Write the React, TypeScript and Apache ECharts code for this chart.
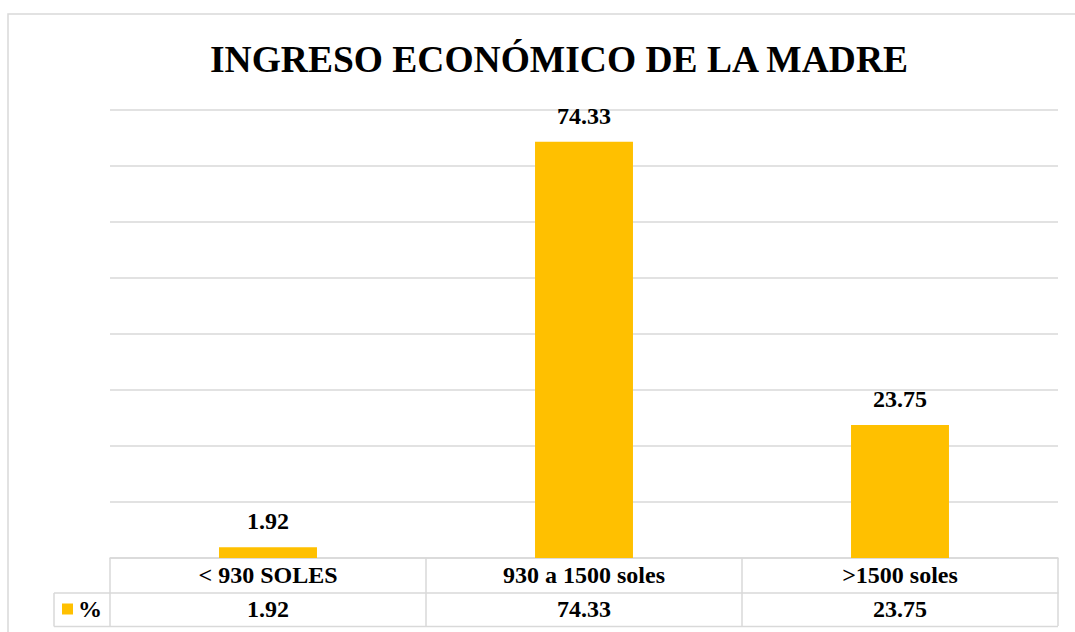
import React, { useEffect, useRef } from "react";
import * as echarts from "echarts";

const TITLE = "INGRESO ECONÓMICO DE LA MADRE";
const categories = ["< 930 SOLES", "930 a 1500 soles", ">1500 soles"];
const seriesName = "%";
const values = [1.92, 74.33, 23.75];

const FONT = "'Liberation Serif', 'Times New Roman', serif";
const GRID_C = "#d9d9d9";
const BAR_C = "#FFC000";

export default function App() {
  const ref = useRef<HTMLDivElement>(null);
  useEffect(() => {
    if (!ref.current) return;
    const chart = echarts.init(ref.current, null, { renderer: "svg" });
    chart.setOption({
      animation: false,
      backgroundColor: "#ffffff",
      title: {
        text: TITLE,
        left: 554,
        textAlign: "center",
        top: 35,
        textStyle: { fontFamily: FONT, fontWeight: "bold", fontSize: 37.5, color: "#000" },
      },
      legend: {
        data: [seriesName],
        left: 57,
        top: 592,
        icon: "rect",
        itemWidth: 11,
        itemHeight: 11,
        itemGap: 4,
        textStyle: { fontFamily: FONT, fontWeight: "bold", fontSize: 24, color: "#000" },
      },
      grid: { left: 110, right: 17, top: 110, bottom: 74, containLabel: false },
      xAxis: [
        {
          type: "category",
          data: categories,
          position: "bottom",
          axisLine: { show: true, lineStyle: { color: GRID_C, width: 1.5 } },
          axisTick: { show: true, length: 68, interval: 0, lineStyle: { color: GRID_C, width: 1.5 } },
          axisLabel: {
            margin: 5,
            interval: 0,
            fontFamily: FONT,
            fontWeight: "bold",
            fontSize: 24,
            color: "#000",
          },
        },
        {
          type: "category",
          data: values.map((v) => v.toFixed(2)),
          position: "bottom",
          offset: 35,
          axisLine: { show: true, lineStyle: { color: GRID_C, width: 1.5 } },
          axisTick: { show: false },
          axisLabel: {
            margin: 4,
            interval: 0,
            fontFamily: FONT,
            fontWeight: "bold",
            fontSize: 24,
            color: "#000",
          },
        },
      ],
      yAxis: {
        type: "value",
        min: 0,
        max: 80,
        interval: 10,
        axisLabel: { show: false },
        axisLine: { show: false },
        axisTick: { show: false },
        splitLine: { lineStyle: { color: GRID_C, width: 1.5 } },
      },
      series: [
        {
          name: seriesName,
          type: "bar",
          xAxisIndex: 0,
          data: values,
          barWidth: "31%",
          itemStyle: { color: BAR_C },
          label: {
            show: true,
            position: "top",
            distance: 14,
            formatter: (p: any) => Number(p.value).toFixed(2),
            fontFamily: FONT,
            fontWeight: "bold",
            fontSize: 24,
            color: "#000",
          },
        },
      ],
      graphic: [
        {
          type: "rect",
          shape: { x: 8, y: 14, width: 1100, height: 700 },
          style: { fill: "none", stroke: GRID_C, lineWidth: 1.5 },
          silent: true,
        },
        {
          type: "line",
          shape: { x1: 54, y1: 593, x2: 110, y2: 593 },
          style: { stroke: GRID_C, lineWidth: 1.5 },
        },
        {
          type: "line",
          shape: { x1: 54, y1: 626.5, x2: 1058, y2: 626.5 },
          style: { stroke: GRID_C, lineWidth: 1.5 },
        },
        {
          type: "line",
          shape: { x1: 54, y1: 593, x2: 54, y2: 626.5 },
          style: { stroke: GRID_C, lineWidth: 1.5 },
        },
      ],
    });
    return () => chart.dispose();
  }, []);
  return (
    <div
      ref={ref}
      style={{ position: "absolute", left: 0, top: 0, width: 1075, height: 632 }}
    />
  );
}
